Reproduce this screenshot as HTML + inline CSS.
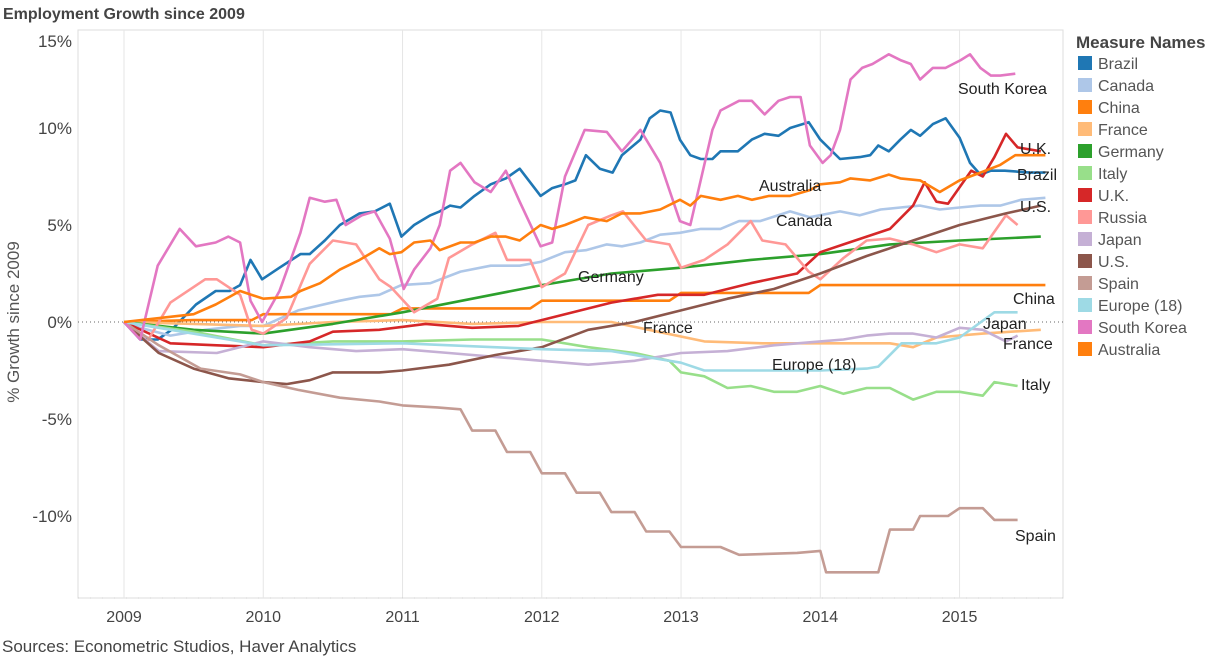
<!DOCTYPE html>
<html><head><meta charset="utf-8"><style>
body{margin:0;background:#fff;font-family:"Liberation Sans",sans-serif;}
svg{display:block}
</style></head><body>
<svg id="chart" width="1223" height="658" xmlns="http://www.w3.org/2000/svg" font-family="Liberation Sans, sans-serif">
<text x="3" y="19" font-size="16" font-weight="bold" fill="#444">Employment Growth since 2009</text>
<text x="2" y="652" font-size="17" fill="#444">Sources: Econometric Studios, Haver Analytics</text>
<text transform="translate(19,322) rotate(-90)" text-anchor="middle" font-size="17" fill="#555">% Growth since 2009</text>
<g id="grid"></g>
<g id="yticks"></g>
<g id="xticks"></g>
<g id="series"></g>
<g id="labels"></g>
<g id="legend">
<text x="1076" y="48" font-size="17" font-weight="bold" fill="#444">Measure Names</text>
</g>
</svg>
<script>
const yTicks=[15,10,5,0,-5,-10];
const yTickLabels=["15%","10%","5%","0%","-5%","-10%"];
const xYears=[2009,2010,2011,2012,2013,2014,2015];
const seriesNames=["Brazil","Canada","China","France","Germany","Italy","U.K.","Russia","Japan","U.S.","Spain","Europe (18)","South Korea","Australia"];
const seriesColors=["#1f77b4","#aec7e8","#ff7f0e","#ffbb78","#2ca02c","#98df8a","#d62728","#ff9896","#c5b0d5","#8c564b","#c49c94","#9edae5","#e377c2","#ff7f0e"];
// months since Jan 2009, % growth
const brazilM=[0,1.4,2.9,4.1,6.2,7.9,9.1,10,10.9,11.9,13.4,15.2,16,17.3,18.6,20.3,21.6,22.9,23.9,25,26.4,27.2,28.1,29,30.2,31.6,32.9,34.1,35.9,36.9,38,38.9,39.8,41,42.1,42.9,44.5,45.3,46.2,47.1,47.9,48.8,49.7,50.7,51.4,52.9,54.1,55.2,56.4,57.4,59,60,61.7,63.4,64.3,65,65.9,66.9,67.8,68.6,69.7,70.8,72,72.9,73.8,74.7,75.9,78.1,79.4];
const brazilV=[0,-0.9,-0.9,-0.4,0.9,1.6,1.6,1.9,3.2,2.2,2.8,3.5,3.5,4.2,5.0,5.6,5.7,6.1,4.4,5.0,5.5,5.7,6.0,5.9,6.5,7.1,7.4,7.9,6.5,6.9,7.1,7.3,8.6,7.9,7.7,8.6,9.4,10.5,10.9,10.8,9.4,8.6,8.4,8.4,8.8,8.8,9.4,9.7,9.6,10.0,10.3,9.4,8.4,8.5,8.6,9.1,8.8,9.4,9.9,9.6,10.2,10.5,9.5,8.2,7.6,7.8,7.8,7.7,7.7];
const canadaM=[0,1.4,4,7,10,12,15,18.6,20.3,22,23.9,26.4,29,31.6,34.1,35.9,38,39.8,41.6,42.9,44.5,46.2,47.9,49.7,51.4,53,54.8,57.4,59.1,61.7,63.4,65.2,66.9,68.6,70.3,72,73.8,75.5,77.3,79.4];
const canadaV=[0,-0.3,-0.7,-0.4,-0.2,-0.2,0.6,1.1,1.3,1.4,1.9,2.0,2.6,2.9,2.9,3.1,3.6,3.7,4.0,3.9,4.1,4.5,4.6,4.8,4.8,5.2,5.2,5.7,5.4,5.7,5.5,5.8,5.9,6.0,5.8,5.9,6.0,6.0,6.3,6.4];
const chinaM=[0,6,11,12,23,24,35,36,47,48,59,60,79.4];
const chinaV=[0,0.1,0.1,0.4,0.4,0.7,0.7,1.1,1.1,1.5,1.5,1.9,1.9];
const franceM=[0,6,12,18,24,30,36,42,46,50,55,60,66,68,70,74,79];
const franceV=[0,-0.1,-0.2,0,0.1,-0.1,0,0,-0.5,-1.0,-1.1,-1.1,-1.1,-1.3,-0.8,-0.6,-0.4];
const germanyM=[0,6,12,18,24,30,36,42,48,54,60,66,72,79];
const germanyV=[0,-0.4,-0.6,-0.1,0.5,1.2,1.9,2.5,2.8,3.2,3.5,4.0,4.2,4.4];
const italyM=[0,6,12,18,24,30,36,40,44,47,48,50,52,54,56,58,60,62,64,66,68,70,72,74,75,77];
const italyV=[0,-0.5,-1.2,-1.0,-1.0,-0.9,-0.9,-1.3,-1.6,-2.0,-2.6,-2.8,-3.4,-3.3,-3.6,-3.6,-3.3,-3.7,-3.4,-3.4,-4.0,-3.6,-3.6,-3.8,-3.1,-3.3];
const ukM=[0,4,8,12,16,18,22,26,30,34,38,42,46,50,54,58,60,62,64,66,68,69,70,71,73,74,75,76,77,79];
const ukV=[0,-1.1,-1.2,-1.3,-1.0,-0.5,-0.4,-0.1,-0.3,-0.2,0.4,1.0,1.4,1.4,2.0,2.5,3.6,4.0,4.4,4.8,6.0,7.2,6.2,6.1,7.8,7.5,8.5,9.7,9.0,8.8];
const russiaM=[0,2,4,7,8,10,11,12,14,16,18,20,22,23,25,27,28,30,32,33,35,36,38,40,42,43,45,47,48,50,52,54,55,57,59,60,62,64,66,68,70,72,74,76,77];
const russiaV=[0,-1.0,1.0,2.2,2.2,1.4,-0.4,-0.6,0.2,3.0,4.2,4.0,2.2,1.8,0.5,1.2,3.3,4.0,4.6,3.2,3.2,1.8,2.5,5.0,5.5,5.7,4.2,4.0,2.8,3.2,4.0,5.2,4.2,4.0,2.6,2.2,3.3,4.2,4.3,4.0,3.6,4.0,3.8,5.5,5.0];
const japanM=[0,3,8,12,16,20,24,28,32,36,40,44,47,48,52,56,60,62,64,66,68,70,72,74,76,77];
const japanV=[0,-1.5,-1.6,-1.0,-1.3,-1.5,-1.4,-1.6,-1.8,-2.0,-2.2,-2.0,-1.7,-1.6,-1.5,-1.2,-1.0,-0.9,-0.7,-0.6,-0.6,-0.8,-0.3,-0.4,-1.0,-0.7];
const usM=[0,3,6,9,12,14,16,18,22,24,28,32,36,40,44,48,52,56,60,64,68,72,76,79];
const usV=[0,-1.6,-2.4,-2.9,-3.1,-3.2,-3.0,-2.6,-2.6,-2.5,-2.2,-1.7,-1.3,-0.4,0.0,0.6,1.2,1.7,2.5,3.4,4.2,5.0,5.6,6.0];
const spainM=[0,3,6.6,10,12,15,18.6,22,24,27,29,30,32,33,35,36,38,39,41,42,44,45,47,48,51.4,53,58,60,60.5,65,66,68,68.6,71,72,74,75,77];
const spainV=[0,-1.2,-2.4,-2.7,-3.1,-3.5,-3.9,-4.1,-4.3,-4.4,-4.5,-5.6,-5.6,-6.7,-6.7,-7.8,-7.8,-8.8,-8.8,-9.8,-9.8,-10.8,-10.8,-11.6,-11.6,-12.0,-11.9,-11.8,-12.9,-12.9,-10.7,-10.7,-10.0,-10.0,-9.6,-9.6,-10.2,-10.2];
const europeM=[0,12,24,36,42,46,48,50,60,64,65,67,70,72,75,77];
const europeV=[0,-1.2,-1.1,-1.4,-1.5,-1.9,-2.1,-2.5,-2.5,-2.4,-2.3,-1.1,-1.1,-0.8,0.5,0.5];
const koreaM=[0,1.4,2.9,4.8,6.2,7.9,9,10,10.9,11.9,13.4,15.2,16,17.3,18.3,19.1,20.5,21.6,22.9,24.1,25,26.4,27.2,28.1,29,30.2,31.6,32.9,34.1,35.9,36.9,38,39.7,41.6,42.9,44.5,46.2,47.9,48.8,50.7,51.4,53,54.1,55.2,56.4,57.4,58.3,59.1,60.2,60.9,61.7,62.6,63.6,64.5,65.9,66.9,67.8,68.6,69.7,70.8,72.1,72.9,73.8,74.7,75.5,76.8];
const koreaV=[0,-0.9,2.9,4.8,3.9,4.1,4.4,4.1,1.1,0,1.6,4.6,6.4,6.2,6.3,5.0,5.5,5.7,4.3,1.7,2.7,3.8,5.0,7.8,8.2,7.2,6.7,7.8,6.2,3.9,4.1,7.5,9.9,9.8,8.8,9.9,8.2,5.2,5.0,9.9,10.9,11.4,11.4,10.7,11.4,11.6,11.6,9.1,8.2,8.6,9.9,12.5,13.1,13.3,13.8,13.5,13.3,12.5,13.1,13.1,13.5,13.8,13.1,12.7,12.7,12.8];
const australiaM=[0,6,7.9,10,12,14.4,15.2,16.9,18.6,20.3,22,22.9,23.9,25,26.4,27.2,29,30.2,31.6,32.9,34.1,35.9,36.9,38,39.7,41.6,42.9,44.5,46.2,47.9,48.8,49.7,51.4,52.9,54.1,55.6,57.4,59.1,60,61.7,62.6,64.3,65.9,66.9,68.6,70.3,72,73.8,75.5,76.8,78.1,79.4];
const australiaV=[0,0.4,0.9,1.6,1.2,1.3,1.6,2.0,2.7,3.2,3.8,3.5,3.6,4.1,4.2,3.7,4.1,4.1,4.4,4.4,4.2,5.0,4.8,5.0,5.4,5.2,5.6,5.6,5.8,6.3,6.0,6.5,6.3,6.5,6.3,6.5,6.5,6.8,7.1,7.2,7.4,7.3,7.6,7.4,7.3,6.7,7.3,7.7,8.1,8.6,8.6,8.6];
const seriesM=[brazilM,canadaM,chinaM,franceM,germanyM,italyM,ukM,russiaM,japanM,usM,spainM,europeM,koreaM,australiaM];
const seriesV=[brazilV,canadaV,chinaV,franceV,germanyV,italyV,ukV,russiaV,japanV,usV,spainV,europeV,koreaV,australiaV];
const labelText=["South Korea","U.K.","Brazil","Australia","U.S.","Canada","Germany","China","France","Japan","France","Europe (18)","Italy","Spain"];
const labelPos=[[958,94],[1020,154],[1017,180],[759,191],[1020,212],[776,226],[578,282],[1013,304],[643,333],[983,329],[1003,349],[772,370],[1021,390],[1015,541]];

const NS="http://www.w3.org/2000/svg";
function yS(v){return 322-v*19.4;}
function xS(m){return 124+m*11.605;}
function mk(tag,attrs,parent){const e=document.createElementNS(NS,tag);for(const k in attrs)e.setAttribute(k,attrs[k]);parent.appendChild(e);return e;}
const grid=document.getElementById('grid'),yt=document.getElementById('yticks'),xt=document.getElementById('xticks'),sg=document.getElementById('series'),lg=document.getElementById('labels'),leg=document.getElementById('legend');
const frame=mk('rect',{x:78,y:30,width:985,height:568,fill:'none',stroke:'#ddd'},grid);


xYears.forEach((yr)=>{const x=xS((yr-2009)*12);
 const l=mk('line',{x1:x,x2:x,y1:30,y2:598,stroke:'#e6e6e6'},grid);
 
 
 const t=mk('text',{x:x,y:622,'text-anchor':'middle','font-size':'16',fill:'#444'},xt);t.textContent=yr;
 
 
});
const ax=mk('line',{x1:78,x2:1063,y1:598,y2:598,stroke:'#ccc','stroke-dasharray':'1,11'},xt);


yTicks.forEach((v,i)=>{
 const t=mk('text',{x:72,y:Math.max(yS(v)+6,47),'text-anchor':'end','font-size':'17',fill:'#444'},yt);t.textContent=yTickLabels[i];
 
 
});
const zl=mk('line',{x1:78,x2:1063,y1:yS(0),y2:yS(0),stroke:'#666','stroke-dasharray':'1,3'},grid);


seriesNames.forEach((n,i)=>{
 const d=seriesM[i].map((m,j)=>(j?'L':'M')+xS(m).toFixed(1)+','+yS(seriesV[i][j]).toFixed(1)).join('');
 const p=mk('path',{d:d,fill:'none',stroke:seriesColors[i],'stroke-width':'2.6','stroke-linejoin':'round'},sg);
 
 
 const ly=63+i*22;
 const r=mk('rect',{x:1078,y:ly-7,width:14,height:14,fill:seriesColors[i]},leg);
 
 
 const t=mk('text',{x:1098,y:ly+6,'font-size':'16',fill:'#555'},leg);t.textContent=n;
 
 
});
labelText.forEach((s,i)=>{
 const t=mk('text',{x:labelPos[i][0],y:labelPos[i][1],'font-size':'16',fill:'#222'},lg);t.textContent=s;
 
 
});
</script>
</body></html>
